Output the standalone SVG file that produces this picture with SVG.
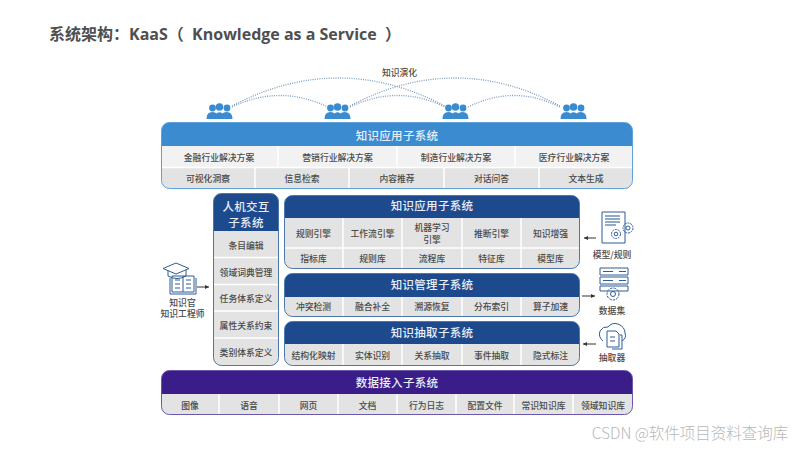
<svg xmlns="http://www.w3.org/2000/svg" width="800" height="450" viewBox="0 0 800 450">
<style>
text{font-family:"Noto Sans CJK SC","Noto Sans",sans-serif;text-anchor:middle}
.t{font-size:8.8px;fill:#4a4a4a;font-weight:500;dominant-baseline:central}
.h{font-size:11.5px;fill:#e8eef6;font-weight:500;dominant-baseline:central;letter-spacing:.3px}
.l{font-size:8.8px;fill:#4a4a4a;font-weight:500}
.c1{fill:#f2f2f2}.c2{fill:#e3e3e3}
.sep{stroke:#fff;stroke-width:1.5;fill:none}
.arc{fill:none;stroke:#7f9cbd;stroke-width:1.3;stroke-dasharray:1 1.3}
.ar{stroke:#333;stroke-width:1;fill:none;marker-end:url(#a)}
.ic{fill:none;stroke:#2d5c96;stroke-width:1}
.p{fill:#3a8bd0}
</style>
<defs>
<marker id="a" markerWidth="5" markerHeight="5" refX="4" refY="2" orient="auto"><path d="M0 0L4 2L0 4z" fill="#333"/></marker>
<g id="ppl"><circle cx="-7" cy="-4" r="3.400" class="p"/><circle cx="7.500" cy="-4" r="3.400" class="p"/><circle cx="0" cy="-5" r="3.800" class="p"/><path class="p" d="M-13 7Q-13 0 -7 0Q-4 0 -3 1.500Q0 -1 3 1.500Q4 0 7 0Q13 0 13 7Z"/></g>
<clipPath id="c0"><rect x="161.500" y="122.500" width="471" height="66" rx="8"/></clipPath>
<clipPath id="c1"><rect x="213.500" y="193.500" width="65" height="172" rx="8"/></clipPath>
<clipPath id="c2"><rect x="284.500" y="195.500" width="295" height="73" rx="8"/></clipPath>
<clipPath id="c3"><rect x="284.500" y="273.500" width="295" height="43" rx="8"/></clipPath>
<clipPath id="c4"><rect x="284.500" y="321.500" width="295" height="44" rx="8"/></clipPath>
<clipPath id="c5"><rect x="161.500" y="370.500" width="471" height="44" rx="8"/></clipPath>
</defs>
<rect width="800" height="450" fill="#fff"/>
<text x="49" y="39.500" style="text-anchor:start;font-size:16px;font-weight:700;fill:#4f4f4f;font-family:'Open Sans','Noto Sans CJK SC',sans-serif" xml:space="preserve">系统架构：KaaS（  Knowledge as a Service  ）</text>

<g id="connectors">
<path class="arc" d="M232 107Q280 84 328 107"/><path class="arc" d="M232 106Q338 50 445 106"/>
<path class="arc" d="M350 107Q398 84 445 107"/><path class="arc" d="M350 106Q455 50 560 106"/>
<path class="arc" d="M468 107Q514 84 560 107"/>
<path class="ar" d="M197 287H209"/>
<path class="ar" d="M596 238H584"/>
<path class="ar" d="M582 296H595"/>
<path class="ar" d="M596 344H583"/>
</g>
<text x="399.500" y="76" class="l">知识演化</text>
<g id="people1"><use href="#ppl" x="219.500" y="112"/></g>
<g id="people2"><use href="#ppl" x="337.500" y="112"/></g>
<g id="people3"><use href="#ppl" x="455.500" y="112"/></g>
<g id="people4"><use href="#ppl" x="573.500" y="112"/></g>

<g id="app-top">
<g clip-path="url(#c0)">
<rect x="161" y="122" width="472" height="24" fill="#3b8bd1"/>
<rect x="161" y="146" width="472" height="21" class="c1"/><rect x="161" y="167" width="472" height="22" class="c2"/>
<path class="sep" d="M278 146V167M397 146V167M515 146V167M161 167.500H633M255 168V189M349 168V189M444 168V189M539 168V189"/>
</g>
<rect x="161.500" y="122.500" width="471" height="66" rx="8" fill="none" stroke="#5da0da"/>
<text class="h" x="397" y="134.500">知识应用子系统</text>
<text class="t" x="219" y="157">金融行业解决方案</text><text class="t" x="337.500" y="157">营销行业解决方案</text><text class="t" x="456" y="157">制造行业解决方案</text><text class="t" x="574" y="157">医疗行业解决方案</text>
<text class="t" x="208" y="178.500">可视化洞察</text><text class="t" x="302" y="178.500">信息检索</text><text class="t" x="397" y="178.500">内容推荐</text><text class="t" x="491.500" y="178.500">对话问答</text><text class="t" x="586" y="178.500">文本生成</text>
</g>

<g id="hci">
<g clip-path="url(#c1)">
<rect x="213" y="193" width="66" height="38" fill="#1d4a8d"/>
<rect x="213" y="231" width="66" height="135" class="c2"/>
<path class="sep" d="M213 257.500H279M213 284.500H279M213 311H279M213 338H279"/>
</g>
<rect x="213.500" y="193.500" width="65" height="172" rx="8" fill="none" stroke="#4d76ab"/>
<text class="h" x="246" y="205.500">人机交互</text><text class="h" x="246" y="221.500">子系统</text>
<text class="t" x="246" y="245">条目编辑</text><text class="t" x="246" y="272">领域词典管理</text><text class="t" x="246" y="298">任务体系定义</text><text class="t" x="246" y="325">属性关系约束</text><text class="t" x="246" y="352.500">类别体系定义</text>
</g>

<g id="app-inner">
<g clip-path="url(#c2)">
<rect x="284" y="195" width="296" height="23" fill="#1d4a8d"/>
<rect x="284" y="218" width="296" height="30" class="c2"/><rect x="284" y="248" width="296" height="21" class="c2"/>
<path class="sep" d="M343 218V269M402 218V269M462 218V269M521 218V269M284 248H580"/>
</g>
<rect x="284.500" y="195.500" width="295" height="73" rx="8" fill="none" stroke="#4d76ab"/>
<text class="h" x="432" y="205">知识应用子系统</text>
<text class="t" x="313.500" y="233">规则引擎</text><text class="t" x="372.500" y="233">工作流引擎</text><text class="t" x="432" y="227.500">机器学习</text><text class="t" x="432" y="239.500">引擎</text><text class="t" x="491.500" y="233">推断引擎</text><text class="t" x="550.500" y="233">知识增强</text>
<text class="t" x="313.500" y="258.500">指标库</text><text class="t" x="372.500" y="258.500">规则库</text><text class="t" x="432" y="258.500">流程库</text><text class="t" x="491.500" y="258.500">特征库</text><text class="t" x="550.500" y="258.500">模型库</text>
</g>

<g id="mgmt">
<g clip-path="url(#c3)">
<rect x="284" y="273" width="296" height="24" fill="#1d4a8d"/><rect x="284" y="297" width="296" height="20" class="c2"/>
<path class="sep" d="M343 297V317M402 297V317M462 297V317M521 297V317"/>
</g>
<rect x="284.500" y="273.500" width="295" height="43" rx="8" fill="none" stroke="#4d76ab"/>
<text class="h" x="432" y="283.500">知识管理子系统</text>
<text class="t" x="313.500" y="306.500">冲突检测</text><text class="t" x="372.500" y="306.500">融合补全</text><text class="t" x="432" y="306.500">溯源恢复</text><text class="t" x="491.500" y="306.500">分布索引</text><text class="t" x="550.500" y="306.500">算子加速</text>
</g>

<g id="extract">
<g clip-path="url(#c4)">
<rect x="284" y="321" width="296" height="23" fill="#1d4a8d"/><rect x="284" y="344" width="296" height="22" class="c2"/>
<path class="sep" d="M343 344V366M402 344V366M462 344V366M521 344V366"/>
</g>
<rect x="284.500" y="321.500" width="295" height="44" rx="8" fill="none" stroke="#4d76ab"/>
<text class="h" x="432" y="331.500">知识抽取子系统</text>
<text class="t" x="313.500" y="355.500">结构化映射</text><text class="t" x="372.500" y="355.500">实体识别</text><text class="t" x="432" y="355.500">关系抽取</text><text class="t" x="491.500" y="355.500">事件抽取</text><text class="t" x="550.500" y="355.500">隐式标注</text>
</g>

<g id="ingest">
<g clip-path="url(#c5)">
<rect x="161" y="370" width="472" height="24" fill="#3b1d8a"/><rect x="161" y="394" width="472" height="21" class="c2"/>
<path class="sep" d="M219 394V415M279 394V415M338 394V415M397 394V415M456 394V415M514 394V415M573 394V415"/>
</g>
<rect x="161.500" y="370.500" width="471" height="44" rx="8" fill="none" stroke="#6a58ad"/>
<text class="h" x="397" y="381.500">数据接入子系统</text>
<text class="t" x="190" y="405">图像</text><text class="t" x="249" y="405">语音</text><text class="t" x="308.500" y="405">网页</text><text class="t" x="367.500" y="405">文档</text><text class="t" x="426.500" y="405">行为日志</text><text class="t" x="485" y="405">配置文件</text><text class="t" x="543.500" y="405">常识知识库</text><text class="t" x="603" y="405">领域知识库</text>
</g>

<g id="engineer">
<path class="ic" d="M172 276H194V292H172ZM170 278V294H196V278M183 276V292M175 280H180M175 284H180M175 288H180M186 280H191M186 284H191M186 288H191" stroke-width="1.200"/>
<path class="ic" d="M168 270V276Q177 281 186 276V270"/>
<path d="M163 268.500L176 263L189 268.500L176 274Z" fill="#fff" stroke="#2d5c96"/>
<text class="l" x="182.500" y="305.500">知识官</text><text class="l" x="182.500" y="317">知识工程师</text>
</g>
<g id="model">
<path class="ic" d="M602 212H625V243H602Z" stroke-width="1.500"/>
<path d="M605 216H620M605 219H620M605 222H620M605 225H616" stroke="#6f8fb5" stroke-width="1.500"/>
<circle class="ic" cx="616" cy="234" r="4.500" fill="#fff" stroke-dasharray="2 .8" stroke-width="1.500"/><circle class="ic" cx="616" cy="234" r="1.800"/>
<circle class="ic" cx="628" cy="228" r="5" fill="#fff" stroke-dasharray="2 .8" stroke-width="1.500"/><circle class="ic" cx="628" cy="228" r="2"/>
<text class="l" x="612" y="258">模型/规则</text>
</g>
<g id="dataset">
<path class="ic" d="M600 268H628V275H600ZM600 277H628V284H600ZM600 286H628V291H600Z"/>
<path d="M603 271.500H613M603 280.500H613M619 271.500H626M619 280.500H626" stroke="#2d5c96"/>
<circle class="ic" cx="613" cy="294" r="6" fill="#fff" stroke-dasharray="2.500 1" stroke-width="1.800"/><circle class="ic" cx="613" cy="294" r="2.500"/>
<text class="l" x="612" y="314">数据集</text>
</g>
<g id="extractor">
<path class="ic" d="M603 341Q598 337 600 331Q603 326 608 327Q612 322 618 324Q625 327 625 333Q627 338 622 341" stroke-width="1.200"/>
<path class="ic" d="M607 331H616L619 334V347H607Z" fill="#fff"/><path d="M610 337H615M610 341H615" stroke="#2d5c96"/><path d="M620 335H622V349H612" class="ic"/>
<text class="l" x="612" y="361">抽取器</text>
</g>
<text x="690" y="439" style="font-size:15.500px;fill:#b8b8b8;font-weight:300">CSDN @软件项目资料查询库</text>
</svg>
